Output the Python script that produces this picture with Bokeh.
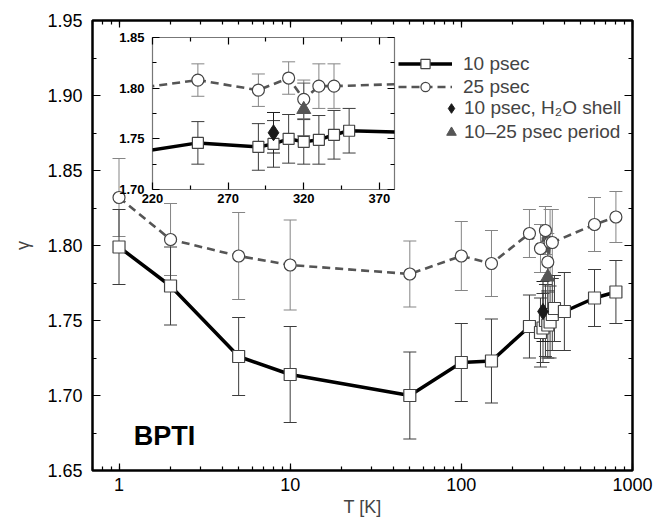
import numpy as np
from bokeh.plotting import figure
from bokeh.models import (ColumnDataSource, Whisker, TeeHead, Legend, LegendItem, Label,
                          LogAxis, LinearAxis, FixedTicker, LogTicker, NumeralTickFormatter,
                          PrintfTickFormatter, GridBox)
from bokeh.embed import file_html
from bokeh.resources import INLINE

FONT = "Liberation Sans"

# ---------------- data ----------------
T_10 = [1, 2, 5, 10, 50, 100, 150, 250, 290, 300, 310, 320, 330, 340, 350, 400, 600, 800]
g_10 = [1.799, 1.773, 1.726, 1.714, 1.700, 1.722, 1.723, 1.746, 1.742, 1.745, 1.750, 1.747,
        1.749, 1.754, 1.758, 1.756, 1.765, 1.769]
e_10 = [0.025, 0.026, 0.026, 0.032, 0.029, 0.026, 0.028, 0.021, 0.023, 0.023, 0.024, 0.022,
        0.024, 0.024, 0.022, 0.026, 0.019, 0.021]

T_25 = [1, 2, 5, 10, 50, 100, 150, 250, 290, 310, 320, 330, 340, 600, 800]
g_25 = [1.832, 1.804, 1.793, 1.787, 1.781, 1.793, 1.788, 1.808, 1.798, 1.810, 1.789, 1.802,
        1.802, 1.814, 1.819]
e_25 = [0.026, 0.024, 0.029, 0.030, 0.022, 0.023, 0.022, 0.016, 0.016, 0.016, 0.019, 0.022,
        0.022, 0.018, 0.017]

T_shell = [300]
g_shell = [1.756]
e_shell = [0.020]

T_period = [320]
g_period = [1.779]
e_period = [0.026]

labels = ["10 psec", "25 psec", "10 psec, H\u2082O shell", "10\u201325 psec period"]

main_x_range = (0.7, 1000)
main_y_range = (1.65, 1.95)
main_y_ticks = [1.65, 1.70, 1.75, 1.80, 1.85, 1.90, 1.95]
main_y_minor = [1.675, 1.725, 1.775, 1.825, 1.875, 1.925]

inset_x_range = (220, 380)
inset_y_range = (1.70, 1.85)
inset_x_ticks = [220, 270, 320, 370]
inset_x_minor = [245, 295, 345]
inset_y_ticks = [1.70, 1.75, 1.80, 1.85]
inset_y_minor = [1.725, 1.775, 1.825]


def make_src(T, g, e, lo_T=None, hi_T=None):
    T = np.asarray(T, float)
    g = np.asarray(g, float)
    e = np.asarray(e, float)
    if lo_T is not None:
        m = (T >= lo_T) & (T <= hi_T)
        T, g, e = T[m], g[m], e[m]
    return ColumnDataSource(dict(T=T, g=g, lo=g - e, hi=g + e))


def whisker(source, color):
    return Whisker(source=source, base="T", lower="lo", upper="hi", dimension="height",
                   line_color=color, line_width=1,
                   upper_head=TeeHead(size=13, line_color=color, line_width=1),
                   lower_head=TeeHead(size=13, line_color=color, line_width=1))


def draw(fig, full, errs, sq, ci):
    s10, s25, ssh, spe = full
    w10, w25, wsh, wpe = errs
    fig.add_layout(whisker(w25, "#858585"))
    fig.add_layout(whisker(w10, "#3c3c3c"))
    fig.add_layout(whisker(wpe, "#5a5a5a"))
    fig.add_layout(whisker(wsh, "#1e1e1e"))
    l25 = fig.line("T", "g", source=s25, line_color="#555555", line_width=2.6, line_dash="8 5")
    l10 = fig.line("T", "g", source=s10, line_color="black", line_width=3.5)
    c25 = fig.scatter("T", "g", source=s25, marker="circle", size=ci, fill_color="white",
                      line_color="#444444", line_width=1.2)
    q10 = fig.scatter("T", "g", source=s10, marker="square", size=sq, fill_color="white",
                      line_color="#444444", line_width=1.2)
    dsh = fig.scatter("T", "g", source=ssh, marker="diamond", size=16,
                      fill_color="#1a1a1a", line_color="#1a1a1a")
    tpe = fig.scatter("T", "g", source=spe, marker="triangle", size=14,
                      fill_color="#555555", line_color="#555555")
    return l10, q10, l25, c25, dsh, tpe


def style_axis(ax, size, bold=False, standoff=8):
    ax.axis_line_color = None
    ax.major_tick_line_color = "black"
    ax.minor_tick_line_color = "black"
    ax.major_tick_line_width = 1.2
    ax.minor_tick_line_width = 1.2
    ax.major_tick_out = 0
    ax.minor_tick_out = 0
    ax.major_label_text_font = FONT
    ax.major_label_text_font_size = size
    ax.major_label_text_font_style = "bold" if bold else "normal"
    ax.major_label_text_color = "black"
    ax.major_label_standoff = standoff


# ---------------- main figure ----------------
p = figure(x_axis_type="log", x_range=main_x_range, y_range=main_y_range,
           width=661, height=521, title=None, frame_align=False,
           min_border_left=92, min_border_right=29, min_border_top=20, min_border_bottom=51,
           output_backend="svg", toolbar_location=None,
           x_axis_label="T [K]", y_axis_label="\u03b3")
p.xgrid.visible = False
p.ygrid.visible = False
p.outline_line_color = "black"
p.outline_line_width = 2.5
p.background_fill_color = "white"
p.border_fill_color = "white"

xt = LogTicker(num_minor_ticks=10)
yt = FixedTicker(ticks=main_y_ticks, minor_ticks=main_y_minor)

p.xaxis.ticker = xt
p.xaxis.formatter = NumeralTickFormatter(format="0")
p.yaxis.ticker = yt
p.yaxis.formatter = NumeralTickFormatter(format="0.00")
for ax in p.xaxis:
    style_axis(ax, "18px", standoff=7)
    ax.major_tick_in = 7
    ax.minor_tick_in = 4
    ax.axis_label_text_font = FONT
    ax.axis_label_text_font_size = "18px"
    ax.axis_label_text_font_style = "normal"
    ax.axis_label_standoff = 3
for ax in p.yaxis:
    style_axis(ax, "18px", standoff=10)
    ax.major_tick_in = 8
    ax.minor_tick_in = 4
    ax.axis_label_text_font = FONT
    ax.axis_label_text_font_size = "18px"
    ax.axis_label_text_font_style = "normal"
    ax.axis_label_standoff = 11

top = LogAxis(ticker=xt, formatter=PrintfTickFormatter(format=""))
style_axis(top, "0px", standoff=0)
top.major_tick_in = 7
top.minor_tick_in = 4
p.add_layout(top, "above")
right = LinearAxis(ticker=yt, formatter=PrintfTickFormatter(format=""))
style_axis(right, "0px", standoff=0)
right.major_tick_in = 8
right.minor_tick_in = 4
p.add_layout(right, "right")

full = (make_src(T_10, g_10, e_10), make_src(T_25, g_25, e_25),
        make_src(T_shell, g_shell, e_shell), make_src(T_period, g_period, e_period))
l10, q10, l25, c25, dsh, tpe = draw(p, full, full, 12, 12)

legend1 = Legend(items=[LegendItem(label=labels[0], renderers=[l10, q10]),
                        LegendItem(label=labels[1], renderers=[l25, c25])],
                 location=(306, 372), glyph_width=54, glyph_height=23, label_height=23,
                 spacing=0, padding=0, margin=0, label_standoff=11,
                 border_line_color=None, background_fill_alpha=0,
                 label_text_font=FONT, label_text_font_size="19px")
legend2 = Legend(items=[LegendItem(label=labels[2], renderers=[dsh]),
                        LegendItem(label=labels[3], renderers=[tpe])],
                 location=(347, 326), glyph_width=24, glyph_height=24, label_height=24,
                 spacing=0, padding=0, margin=0, label_standoff=1,
                 border_line_color=None, background_fill_alpha=0,
                 label_text_font=FONT, label_text_font_size="19px")
p.add_layout(legend1)
p.add_layout(legend2)

p.add_layout(Label(x=1.22, y=1.6733, text="BPTI", text_font=FONT, text_font_style="bold",
                   text_font_size="27px", text_baseline="alphabetic", text_color="black"))

# ---------------- inset figure ----------------
ins = figure(x_range=inset_x_range, y_range=inset_y_range,
             width=288, height=190, title=None, frame_align=False,
             min_border_left=40, min_border_right=6, min_border_top=12, min_border_bottom=26,
             output_backend="svg", toolbar_location=None)
ins.xgrid.visible = False
ins.ygrid.visible = False
ins.border_fill_color = None
ins.background_fill_color = "white"
ins.outline_line_color = "#777777"
ins.outline_line_width = 1.2

ixt = FixedTicker(ticks=inset_x_ticks, minor_ticks=inset_x_minor)
iyt = FixedTicker(ticks=inset_y_ticks, minor_ticks=inset_y_minor)
ins.xaxis.ticker = ixt
ins.xaxis.formatter = NumeralTickFormatter(format="0")
ins.yaxis.ticker = iyt
ins.yaxis.formatter = NumeralTickFormatter(format="0.00")
for ax in ins.xaxis:
    style_axis(ax, "13px", bold=True, standoff=4)
    ax.major_tick_in = 7
    ax.minor_tick_in = 4
for ax in ins.yaxis:
    style_axis(ax, "13px", bold=True, standoff=8)
    ax.major_tick_in = 7
    ax.minor_tick_in = 4
itop = LinearAxis(ticker=ixt, formatter=PrintfTickFormatter(format=""))
style_axis(itop, "0px", standoff=0)
itop.major_tick_in = 7
itop.minor_tick_in = 4
ins.add_layout(itop, "above")
iright = LinearAxis(ticker=iyt, formatter=PrintfTickFormatter(format=""))
style_axis(iright, "0px", standoff=0)
iright.major_tick_in = 7
iright.minor_tick_in = 4
ins.add_layout(iright, "right")

lo, hi = inset_x_range
ins_full = (make_src(T_10, g_10, e_10), make_src(T_25, g_25, e_25),
            make_src(T_shell, g_shell, e_shell), make_src(T_period, g_period, e_period))
ins_err = (make_src(T_10, g_10, e_10, lo, hi), make_src(T_25, g_25, e_25, lo, hi),
           make_src(T_shell, g_shell, e_shell, lo, hi), make_src(T_period, g_period, e_period, lo, hi))
draw(ins, ins_full, ins_err, 11, 12)

# main figure spans the whole grid; the inset sits in the cell after a 112x25 px offset
layout = GridBox(children=[(p, 0, 0, 2, 2), (ins, 1, 1, 1, 1)],
                 rows=["25px", "auto"], cols=["112px", "auto"], spacing=0)

open("out.html", "w").write(file_html(layout, INLINE))
